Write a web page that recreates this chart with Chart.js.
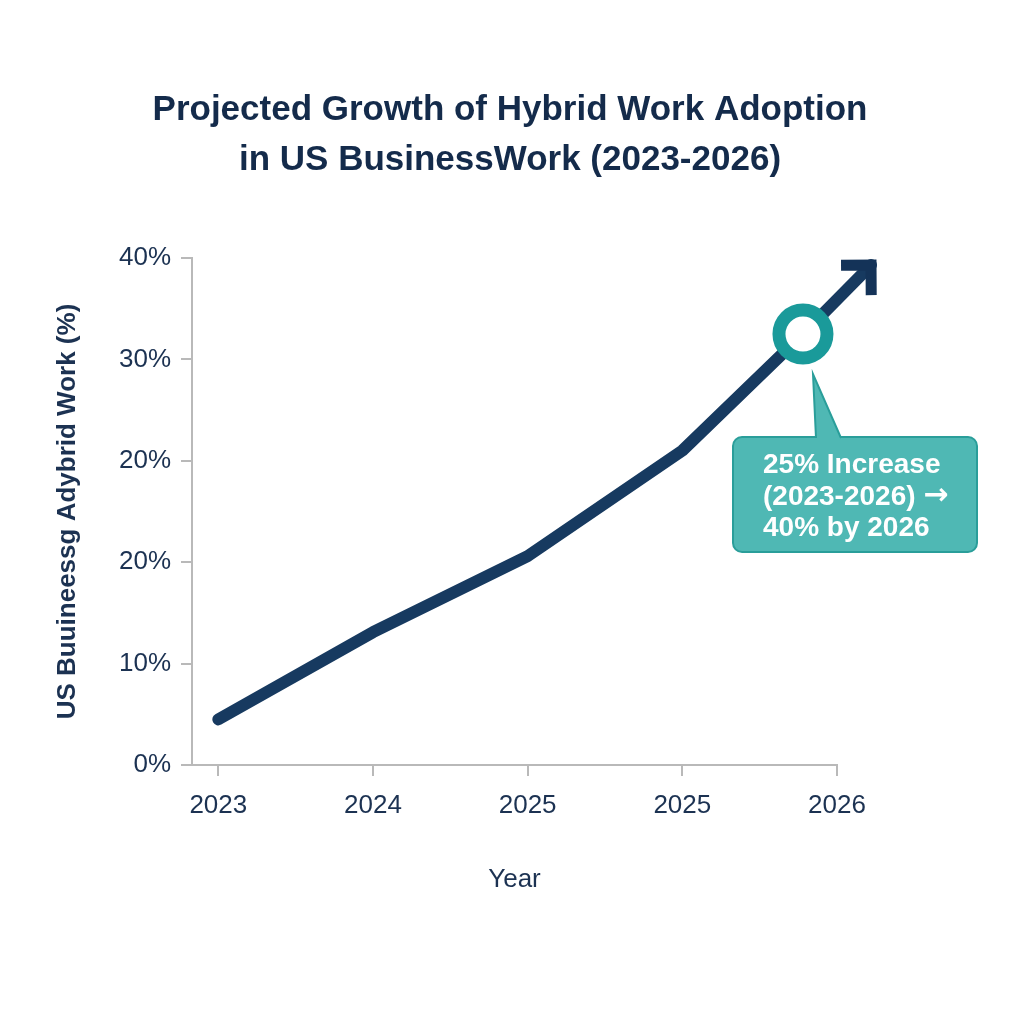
<!DOCTYPE html>
<html>
<head>
<meta charset="utf-8">
<script src="https://cdn.jsdelivr.net/npm/chart.js@4.4.0/dist/chart.umd.min.js"></script>
<style>
html,body{margin:0;padding:0;background:#ffffff;}
#wrap{width:1024px;height:1024px;}
</style>
</head>
<body>
<div id="wrap"><canvas id="c" width="1024" height="1024"></canvas></div>
<script>
// ---- data ----
const titleLines = ['Projected Growth of Hybrid Work Adoption', 'in US BusinessWork (2023-2026)'];
const yearLabels = ['2023', '2024', '2025', '2025', '2026'];
const xTickValues = [0, 1, 2, 3, 4];
const yTickLabels = ['0%', '10%', '20%', '20%', '30%', '40%'];
const yTickValues = [0, 10, 20, 30, 40, 50];
const seriesX = [0, 1, 2, 3, 3.78, 4.22];
const seriesY = [4.5, 13.1, 20.6, 31.0, 42.5, 49.3];
const markerX = [3.78];
const markerY = [42.5];
const calloutLines = ['25% Increase', '(2023-2026) \u2192', '40% by 2026'];
const xTitle = 'Year';
const yTitle = 'US Buuineessg Adybrid Work (%)';

// ---- styles ----
const FONT = "'Liberation Sans', Arial, Helvetica, sans-serif";
Chart.defaults.font.family = FONT;
const navy = '#173a60';
const textC = '#1c3252';
const axisC = '#b9b9b9';
const teal = '#1a9a9a';

const bgPlugin = {
  id: 'bg',
  beforeDraw(chart) {
    const ctx = chart.ctx;
    ctx.save();
    ctx.fillStyle = '#ffffff';
    ctx.fillRect(0, 0, chart.width, chart.height);
    ctx.restore();
  }
};

const titlePlugin = {
  id: 'mainTitle',
  afterDraw(chart) {
    const ctx = chart.ctx;
    ctx.save();
    ctx.fillStyle = '#142b4b';
    ctx.font = 'bold 35px ' + FONT;
    ctx.textAlign = 'center';
    ctx.textBaseline = 'alphabetic';
    const baselines = [120, 170];
    titleLines.forEach((t, i) => ctx.fillText(t, 510, baselines[i]));
    ctx.restore();
  }
};

const arrowPlugin = {
  id: 'arrowHead',
  afterDatasetsDraw(chart) {
    const meta = chart.getDatasetMeta(1);
    const pts = meta.data;
    const n = pts.length;
    const p = pts[n - 1], q = pts[n - 2];
    const ang = Math.atan2(p.y - q.y, p.x - q.x);
    const L = 30;
    const back = ang + Math.PI;
    const a1 = back + Math.PI / 4, a2 = back - Math.PI / 4;
    const ctx = chart.ctx;
    ctx.save();
    ctx.strokeStyle = '#143358';
    ctx.lineWidth = 11;
    ctx.lineJoin = 'miter';
    ctx.miterLimit = 10;
    ctx.lineCap = 'butt';
    ctx.beginPath();
    ctx.moveTo(p.x + L * Math.cos(a1), p.y + L * Math.sin(a1));
    ctx.lineTo(p.x, p.y);
    ctx.lineTo(p.x + L * Math.cos(a2), p.y + L * Math.sin(a2));
    ctx.stroke();
    ctx.restore();
  }
};

const calloutPlugin = {
  id: 'callout',
  afterDraw(chart) {
    const ctx = chart.ctx;
    ctx.save();
    const fillC = '#4fb8b4', edgeC = '#2a9e9a';
    const bx = 733, by = 437, bw = 244, bh = 115, r = 9;
    ctx.beginPath();
    ctx.roundRect(bx, by, bw, bh, r);
    ctx.fillStyle = fillC;
    ctx.fill();
    ctx.lineWidth = 2;
    ctx.strokeStyle = edgeC;
    ctx.stroke();
    // pointer
    ctx.beginPath();
    ctx.moveTo(816, by + 2);
    ctx.lineTo(813, 374);
    ctx.lineTo(841, by + 2);
    ctx.closePath();
    ctx.fillStyle = fillC;
    ctx.fill();
    ctx.beginPath();
    ctx.moveTo(816, by + 1);
    ctx.lineTo(813, 374);
    ctx.lineTo(841, by + 1);
    ctx.strokeStyle = edgeC;
    ctx.stroke();
    // text
    ctx.fillStyle = '#ffffff';
    ctx.textAlign = 'left';
    ctx.textBaseline = 'alphabetic';
    const baselines = [473, 505, 536];
    calloutLines.forEach((t, i) => {
      const k = t.indexOf('\u2192');
      ctx.font = 'bold 28px ' + FONT;
      if (k < 0) { ctx.fillText(t, 763, baselines[i]); return; }
      const head = t.slice(0, k);
      ctx.fillText(head, 763, baselines[i]);
      const w = ctx.measureText(head).width;
      ctx.font = "bold 30px 'DejaVu Sans', sans-serif";
      ctx.fillText('\u2192', 763 + w, baselines[i] - 1);
    });
    ctx.restore();
  }
};

new Chart(document.getElementById('c'), {
  type: 'line',
  data: {
    datasets: [
      {
        label: 'Marker',
        data: markerX.map((x, i) => ({ x: x, y: markerY[i] })),
        showLine: false,
        pointRadius: 24,
        pointHoverRadius: 24,
        pointBorderWidth: 13,
        pointBackgroundColor: '#ffffff',
        pointBorderColor: teal,
        order: 0,
        clip: false
      },
      {
        label: 'Hybrid Work Adoption',
        data: seriesX.map((x, i) => ({ x: x, y: seriesY[i] })),
        borderColor: navy,
        borderWidth: 12,
        borderCapStyle: 'round',
        borderJoinStyle: 'round',
        pointRadius: 0,
        pointHoverRadius: 0,
        tension: 0,
        fill: false,
        order: 1,
        clip: false
      }
    ]
  },
  options: {
    responsive: false,
    animation: false,
    events: [],
    layout: { padding: { top: 258, left: 0, right: 187, bottom: 0 } },
    plugins: {
      legend: { display: false },
      tooltip: { enabled: false },
      title: { display: false }
    },
    scales: {
      x: {
        type: 'linear',
        min: -0.17,
        max: 4,
        afterBuildTicks: s => { s.ticks = xTickValues.map(v => ({ value: v })); },
        afterFit: s => { s.height = 259; },
        ticks: {
          callback: (v, i) => yearLabels[i],
          color: textC,
          font: { size: 26 },
          padding: 14,
          maxRotation: 0,
          autoSkip: false
        },
        grid: { drawOnChartArea: false, drawTicks: true, tickLength: 11, color: axisC, lineWidth: 2 },
        border: { display: true, color: axisC, width: 2 },
        title: { display: true, text: xTitle, color: textC, font: { size: 26 }, padding: { top: 0, bottom: 129 } }
      },
      y: {
        type: 'linear',
        min: 0,
        max: 50,
        afterBuildTicks: s => { s.ticks = yTickValues.map(v => ({ value: v })); },
        afterFit: s => { s.width = 192; },
        ticks: {
          callback: (v, i) => yTickLabels[i],
          color: textC,
          font: { size: 26 },
          padding: 10,
          autoSkip: false
        },
        grid: { drawOnChartArea: false, drawTicks: true, tickLength: 11, color: axisC, lineWidth: 2 },
        border: { display: true, color: axisC, width: 2 },
        title: { display: true, text: yTitle, color: textC, font: { size: 26, weight: 'bold' }, padding: { top: 52, bottom: 0 } }
      }
    }
  },
  plugins: [bgPlugin, titlePlugin, arrowPlugin, calloutPlugin]
});
</script>
</body>
</html>
